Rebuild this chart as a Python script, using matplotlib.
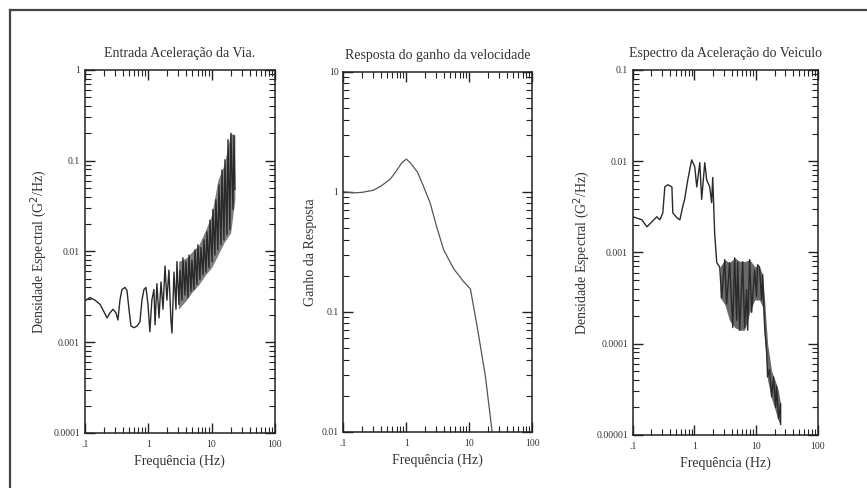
import matplotlib
matplotlib.use('Agg')
import matplotlib.pyplot as plt
from matplotlib.lines import Line2D

plt.rcParams['font.family'] = ['Liberation Serif', 'DejaVu Serif']

# painel 1 - entrada aceleracao da via
f_via = [0.104, 0.12, 0.144, 0.173, 0.2, 0.223, 0.249, 0.277, 0.309, 0.332,
         0.357, 0.384, 0.429, 0.461, 0.496, 0.533, 0.594, 0.663, 0.739, 0.795,
         0.855, 0.92, 0.99, 1.06, 1.14, 1.23, 1.28, 1.37, 1.48, 1.59,
         1.71, 1.84, 1.97, 2.12, 2.28, 2.37, 2.55, 2.74, 2.84, 3.05,
         3.17, 3.41, 3.53, 3.8, 3.94, 4.24, 4.4, 4.73, 4.9, 5.27,
         5.47, 5.88, 6.1, 6.56, 6.8, 7.32, 7.59, 8.16, 8.46, 9.1,
         9.44, 10.2, 10.5, 11.3, 11.7, 12.6, 13.1, 14.1, 14.6, 15.7,
         16.3, 17.5, 18.2, 19.5, 20.2, 21.8, 22.6, 23.4]
psd_via = [2.9e-3, 3.1e-3, 2.9e-3, 2.6e-3, 2.15e-3, 1.85e-3, 2.1e-3, 2.3e-3, 2.1e-3, 1.75e-3,
           2.9e-3, 3.8e-3, 4.0e-3, 3.7e-3, 2.3e-3, 1.5e-3, 1.44e-3, 1.5e-3, 1.67e-3, 2.9e-3,
           3.8e-3, 4.0e-3, 2.6e-3, 1.3e-3, 2.9e-3, 3.8e-3, 1.55e-3, 4.4e-3, 1.85e-3, 4.6e-3,
           2.3e-3, 6.9e-3, 2.9e-3, 6.2e-3, 1.75e-3, 1.26e-3, 5.9e-3, 2.3e-3, 7.7e-3, 2.6e-3,
           6.2e-3, 2.9e-3, 8.5e-3, 3.3e-3, 7.7e-3, 3.1e-3, 9.1e-3, 3.6e-3, 8.0e-3, 3.8e-3,
           1.04e-2, 4.3e-3, 1.18e-2, 4.9e-3, 1.1e-2, 5.5e-3, 1.34e-2, 5.9e-3, 1.64e-2, 6.6e-3,
           2.2e-2, 7.7e-3, 2.9e-2, 9.1e-3, 3.7e-2, 1.04e-2, 5.4e-2, 1.18e-2, 7.9e-2, 1.34e-2,
           0.102, 1.52e-2, 0.17, 1.73e-2, 0.2, 2.9e-2, 0.19, 4.8e-2]
# faixa densa (envoltoria) do painel 1
fb_via = [3.0, 4.0, 5.0, 6.3, 8.0, 10, 12.6, 15.8, 20, 23.4]
hi_via = [7.7e-3, 8.5e-3, 1.0e-2, 1.18e-2, 1.7e-2, 2.5e-2, 6.1e-2, 9.0e-2, 0.2, 0.19]
lo_via = [2.3e-3, 2.9e-3, 3.6e-3, 4.3e-3, 5.5e-3, 6.6e-3, 9.1e-3, 1.25e-2, 1.6e-2, 3.7e-2]

# painel 2 - resposta do ganho da velocidade
f_ganho = [0.1, 0.15, 0.2, 0.3, 0.4, 0.56, 0.7, 0.85, 1.0, 1.15, 1.5, 1.86,
           2.4, 3.0, 3.9, 5.6, 8.0, 10.4, 13.4, 18, 23]
ganho = [1.0, 0.98, 0.99, 1.03, 1.12, 1.28, 1.5, 1.75, 1.87, 1.75, 1.46, 1.12,
         0.8, 0.52, 0.33, 0.23, 0.18, 0.155, 0.074, 0.029, 0.01]

# painel 3 - espectro da aceleracao do veiculo
f_veic = [0.1, 0.14, 0.169, 0.203, 0.245, 0.274, 0.306, 0.33, 0.37, 0.43,
          0.445, 0.516, 0.58, 0.646, 0.69, 0.778, 0.9, 1.01, 1.09, 1.22,
          1.31, 1.47, 1.58, 1.77, 1.9, 1.98, 2.13, 2.3, 2.57, 2.77,
          3.1, 3.33, 3.73, 4.18, 4.5, 4.85, 5.03, 5.42, 6.07, 6.53,
          7.04, 7.31, 7.87, 8.49, 9.5, 10.2, 10.6, 11.4, 12.3, 12.8,
          13.8, 14.9, 15.4, 16.6, 17.9, 19.3, 20.8, 21.6, 23.2, 25.1, 25.1]
psd_veic = [2.45e-3, 2.27e-3, 1.9e-3, 2.16e-3, 2.45e-3, 2.27e-3, 2.7e-3, 5.2e-3, 5.5e-3, 5.2e-3,
            2.7e-3, 2.4e-3, 2.27e-3, 3.2e-3, 3.76e-3, 6.2e-3, 1.03e-2, 8.7e-3, 5.2e-3, 9.6e-3,
            3.8e-3, 9.6e-3, 6.2e-3, 5.2e-3, 3.5e-3, 6.6e-3, 1.6e-3, 7.7e-4, 6.9e-4, 3.2e-4,
            8.3e-4, 2.7e-4, 7.7e-4, 1.5e-4, 8.7e-4, 1.8e-4, 7.7e-4, 1.4e-4, 7.9e-4, 1.5e-4,
            3.9e-4, 1.4e-4, 8.3e-4, 2.2e-4, 6.4e-4, 3.3e-4, 7.3e-4, 6.9e-4, 3.0e-4, 5.7e-4,
            1.5e-4, 7.9e-5, 4.3e-5, 5.2e-5, 2.6e-5, 4.3e-5, 2.0e-5, 3.4e-5, 1.5e-5, 2.2e-5, 1.3e-5]
# faixa densa (envoltoria) do painel 3
fb_veic = [2.6, 3.1, 3.7, 4.5, 5.4, 6.5, 7.9, 9.5, 11.4, 12.8, 13.8, 15.4, 17.9, 20.8, 23.2, 25]
hi_veic = [6.9e-4, 8.3e-4, 7.7e-4, 8.7e-4, 8e-4, 7.9e-4, 8.3e-4, 7e-4, 6.9e-4, 5.7e-4,
           3e-4, 1e-4, 5e-5, 3.8e-5, 3e-5, 2.2e-5]
lo_veic = [3.2e-4, 2.7e-4, 1.8e-4, 1.5e-4, 1.4e-4, 1.4e-4, 2.2e-4, 3e-4, 3e-4, 2.5e-4,
           1.2e-4, 4e-5, 2.5e-5, 1.8e-5, 1.4e-5, 1.3e-5]

xticks = [0.1, 1, 10, 100]
xlabels = ['.1', '1', '10', '100']

fig = plt.figure(figsize=(8.67, 4.88), dpi=100)

ax1 = fig.add_axes([0.098, 0.113, 0.219, 0.744])
ax2 = fig.add_axes([0.396, 0.115, 0.218, 0.738])
ax3 = fig.add_axes([0.730, 0.109, 0.213, 0.748])

titles = ['Entrada Aceleração da Via.', 'Resposta do ganho da velocidade',
          'Espectro da Aceleração do Veiculo']
ylabs = ['Densidade Espectral (G$^2$/Hz)', 'Ganho da Resposta',
         'Densidade Espectral (G$^2$/Hz)']

for ax, t, yl in zip([ax1, ax2, ax3], titles, ylabs):
    ax.set_xscale('log')
    ax.set_yscale('log')
    ax.set_xlim(0.1, 100)
    ax.set_xticks(xticks)
    ax.set_xticklabels(xlabels)
    ax.tick_params(which='both', direction='in', top=True, right=True,
                   color='#222222', labelsize=7, labelcolor='#333333')
    ax.tick_params(axis='x', which='major', pad=5)
    ax.tick_params(which='major', length=7, width=1.0)
    ax.tick_params(which='minor', length=4, width=0.8)
    ax.set_title(t, fontsize=10, color='#333333', pad=9)
    ax.set_xlabel('Frequência (Hz)', fontsize=10, color='#333333', labelpad=4)
    ax.set_ylabel(yl, fontsize=10, color='#333333', labelpad=3)
    for s in ax.spines.values():
        s.set_linewidth(1.1)
        s.set_color('#222222')

ax1.fill_between(fb_via, lo_via, hi_via, color='#555555', alpha=0.75, lw=0)
ax1.plot(f_via, psd_via, color='#2a2a2a', lw=1.0)
ax2.plot(f_ganho, ganho, color='#555555', lw=0.9)
ax3.fill_between(fb_veic, lo_veic, hi_veic, color='#444444', alpha=0.8, lw=0)
ax3.plot(f_veic, psd_veic, color='#2a2a2a', lw=1.0)

ax1.set_ylim(1e-4, 1)
ax2.set_ylim(0.01, 10)
ax3.set_ylim(1e-5, 0.1)

ax1.set_yticks([1e-4, 1e-3, 1e-2, 1e-1, 1])
ax1.set_yticklabels(['0.0001', '0.001', '0.01', '0.1', '1'])
ax2.set_yticks([0.01, 0.1, 1, 10])
ax2.set_yticklabels(['0.01', '0.1', '1', '10'])
ax3.set_yticks([1e-5, 1e-4, 1e-3, 1e-2, 1e-1])
ax3.set_yticklabels(['0.00001', '0.0001', '0.001', '0.01', '0.1'])

# moldura da figura (topo e lado esquerdo)
fig.add_artist(Line2D([0.011, 1.0], [0.980, 0.980], color='#444444', lw=1.6))
fig.add_artist(Line2D([0.012, 0.012], [0.0, 0.980], color='#444444', lw=1.6))

fig.savefig('out.png', dpi=100)
